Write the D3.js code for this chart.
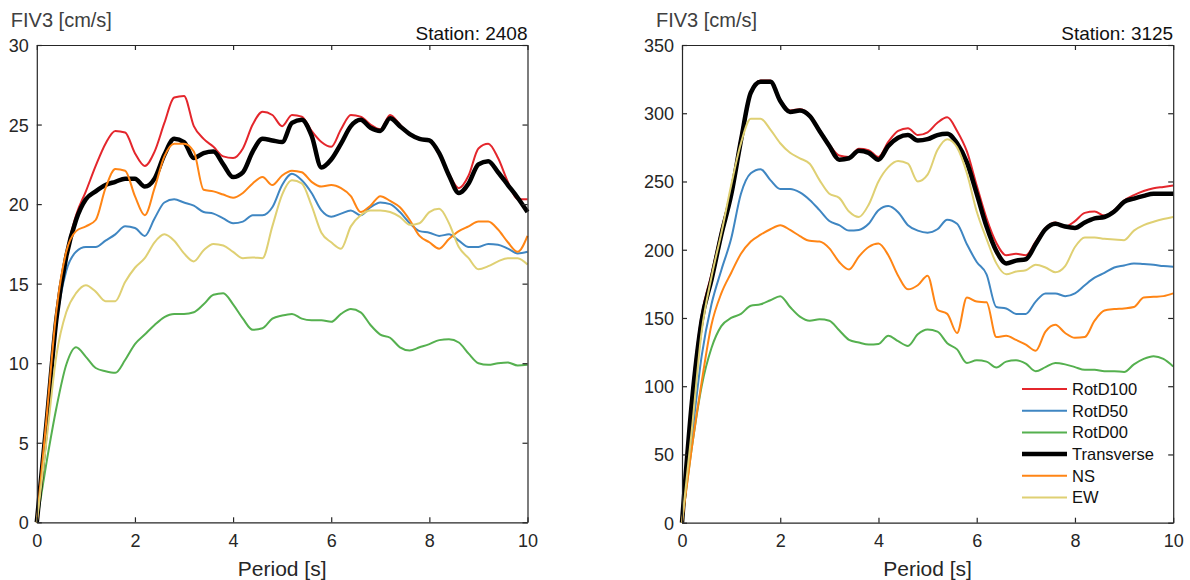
<!DOCTYPE html>
<html>
<head>
<meta charset="utf-8">
<script src="https://cdn.jsdelivr.net/npm/d3@7"></script>
<style>
  body { margin: 0; background: #fff; }
  svg { font-family: "Liberation Sans", Arial, sans-serif; }
</style>
</head>
<body>
<div id="chart"></div>
<script>
// periods (s), shared by all series
const period = d3.range(0, 10.0001, 0.2).map(d => +d.toFixed(1));

const seriesNames = ["RotD100", "RotD50", "RotD00", "Transverse", "NS", "EW"];

// Station 2408
const rotd100_2408 = [0, 6.5, 13.0, 16.8, 19.3, 20.8, 22.4, 23.8, 24.6, 24.5, 23.2, 22.4, 23.3, 25.1, 26.7, 26.8, 24.9, 24.1, 23.6, 23.0, 22.9, 23.5, 25.0, 25.8, 25.6, 24.9, 25.6, 25.5, 24.6, 23.9, 23.6, 24.7, 25.6, 25.5, 25.0, 24.7, 25.6, 25.0, 24.4, 24.1, 24.0, 23.1, 21.9, 21.0, 21.8, 23.5, 23.8, 22.9, 21.4, 20.3, 20.3];
const rotd50_2408 = [0, 6.0, 12.5, 15.8, 17.0, 17.3, 17.3, 17.7, 18.1, 18.6, 18.5, 18.0, 19.1, 20.1, 20.3, 20.1, 19.9, 19.5, 19.4, 19.1, 18.8, 18.9, 19.3, 19.3, 19.8, 21.2, 21.9, 21.5, 20.7, 19.6, 19.2, 19.4, 19.6, 19.3, 19.8, 20.1, 20.0, 19.5, 18.8, 18.3, 18.2, 18.0, 18.1, 17.7, 17.3, 17.3, 17.5, 17.45, 17.2, 16.9, 17.0];
const rotd00_2408 = [0, 3.8, 7.2, 9.9, 11.0, 10.4, 9.7, 9.5, 9.4, 10.2, 11.2, 11.8, 12.4, 12.9, 13.1, 13.1, 13.2, 13.7, 14.3, 14.4, 13.7, 12.8, 12.1, 12.2, 12.8, 13.0, 13.1, 12.8, 12.7, 12.7, 12.6, 13.1, 13.4, 13.2, 12.4, 11.8, 11.6, 11.0, 10.8, 11.0, 11.2, 11.45, 11.5, 11.3, 10.6, 10.0, 9.9, 10.0, 10.05, 9.85, 9.9];
const trans_2408 = [0, 6.3, 12.8, 16.7, 19.0, 20.3, 20.8, 21.2, 21.4, 21.6, 21.6, 21.1, 21.6, 23.1, 24.1, 23.9, 22.9, 23.2, 23.3, 22.5, 21.7, 22.0, 23.3, 24.1, 24.0, 23.9, 25.1, 25.3, 24.3, 22.3, 22.8, 23.8, 24.9, 25.3, 24.8, 24.6, 25.4, 24.9, 24.4, 24.1, 24.0, 23.2, 21.8, 20.7, 21.3, 22.5, 22.7, 22.0, 21.2, 20.4, 19.5];
const ns_2408 = [0, 6.6, 13.3, 17.0, 18.3, 18.6, 19.0, 21.0, 22.2, 22.1, 20.5, 19.3, 21.0, 23.0, 23.8, 23.8, 23.3, 20.9, 20.8, 20.6, 20.4, 20.7, 21.3, 21.7, 21.2, 21.8, 22.1, 22.0, 21.4, 21.1, 21.2, 21.0, 20.5, 19.5, 19.9, 20.5, 20.2, 19.8, 19.0, 18.0, 17.6, 17.2, 17.8, 18.3, 18.6, 18.9, 18.9, 18.4, 17.6, 17.0, 18.0];
const ew_2408 = [0, 5.2, 10.5, 13.2, 14.4, 14.9, 14.5, 13.9, 13.9, 15.1, 16.0, 16.6, 17.6, 18.1, 17.7, 16.9, 16.4, 17.1, 17.5, 17.4, 17.0, 16.6, 16.65, 16.6, 18.6, 20.6, 21.5, 21.3, 19.9, 18.2, 17.6, 17.2, 18.6, 19.3, 19.6, 19.6, 19.5, 19.2, 18.7, 18.8, 19.5, 19.7, 18.8, 17.3, 16.6, 15.9, 16.1, 16.4, 16.6, 16.6, 16.2];

// Station 3125
const rotd100_3125 = [0, 92, 152, 182, 214, 243, 283, 316, 324, 324, 310, 302, 303, 299, 288, 277, 269, 268, 274, 273, 268, 279, 287, 289, 284, 286, 293, 297, 287, 272, 247, 223, 205, 196, 197, 196, 206, 216, 220, 217, 221, 227, 228, 225, 229, 236, 240, 243, 245, 246, 247];
const rotd50_3125 = [0, 62, 122, 160, 185, 208, 241, 256, 259, 251, 244.5, 244.5, 242, 236.5, 229, 221, 218, 214, 214.5, 219, 229, 232, 227.5, 218, 214, 212.5, 215, 222, 219, 204, 191, 182, 158, 157, 153, 153, 162, 168, 168, 166, 168, 174, 179.5, 183, 187, 188.5, 190, 189.5, 189, 188, 187.5];
const rotd00_3125 = [0, 55, 100, 128, 144, 150, 153, 159, 160, 163, 166, 158, 151, 148, 149, 148, 141, 134, 132, 130.5, 131, 137, 133, 129.5, 138, 141.5, 140, 131.5, 127, 117, 119, 118, 113.7, 118, 119, 116.5, 111, 114, 117, 116, 114, 112, 112, 111, 111, 110.5, 116, 120, 122, 120, 114.5];
const trans_3125 = [0, 88, 148, 178, 211, 240, 280, 315, 323, 323, 309, 301, 302, 298, 287, 276, 266, 267, 272.5, 271, 266, 276, 282, 284, 280, 281, 284, 285, 278, 264, 241, 217, 199, 190, 192, 193, 204, 215, 219, 217, 216, 220, 223, 224, 228, 235, 237.5, 239.5, 241, 241, 241];
const ns_3125 = [0, 55, 103, 145, 168, 183, 197, 206, 211, 215, 218, 214.5, 210, 206.5, 206, 201, 191, 185.5, 195, 202, 204.5, 196, 181, 171, 174, 181, 156, 153, 139, 165, 162, 161.5, 136, 137, 134, 130.5, 126, 140, 145, 139, 135.5, 136, 148, 155.5, 156.5, 157, 158, 165, 165.5, 166, 168];
const ew_3125 = [0, 68, 140, 180, 212, 247, 278, 296, 296, 288, 278, 271, 267, 263, 251, 241, 238, 228, 224, 233, 250, 260.5, 265, 263, 250, 255, 273, 281, 275, 256, 228, 208, 190, 182, 184, 185, 189, 187, 183.5, 188, 202, 209, 209, 208, 207.5, 207, 214, 218, 220.5, 222.5, 224];

const xTicks = [0, 2, 4, 6, 8, 10];
const yTicks2408 = [0, 5, 10, 15, 20, 25, 30];
const yTicks3125 = [0, 50, 100, 150, 200, 250, 300, 350];

const colors = {
    RotD100: "#e4262c",
    RotD50: "#3f86c2",
    RotD00: "#55b04f",
    Transverse: "#000000",
    NS: "#ff8515",
    EW: "#dfd073"
};
const widths = { RotD100: 2, RotD50: 2, RotD00: 2, Transverse: 4.5, NS: 2, EW: 2 };

const panels = [
    { station: "2408", yMax: 30, yTicks: yTicks2408, left: 36.8, width: 490.7, height: 477.3,
      series: [rotd100_2408, rotd50_2408, rotd00_2408, trans_2408, ns_2408, ew_2408], legend: false },
    { station: "3125", yMax: 350, yTicks: yTicks3125, left: 682, width: 491.2, height: 477.7,
      series: [rotd100_3125, rotd50_3125, rotd00_3125, trans_3125, ns_3125, ew_3125], legend: true }
];

const svg = d3.select("#chart")
    .append("svg")
    .attr("width", 1190)
    .attr("height", 580);

const axisColor = "#262626";

panels.forEach(p => {
    const top = 45;
    const g = svg.append("g").attr("transform", `translate(${p.left},${top})`);

    const xScale = d3.scaleLinear().domain([0, 10]).range([0, p.width]);
    const yScale = d3.scaleLinear().domain([0, p.yMax]).range([p.height, 0]);

    // lines
    const line = d3.line()
        .x((d, i) => xScale(period[i]))
        .y(d => yScale(d))
        .curve(d3.curveMonotoneX);

    seriesNames.forEach((name, k) => {
        g.append("path")
            .datum(p.series[k])
            .attr("fill", "none")
            .attr("stroke", colors[name])
            .attr("stroke-width", widths[name])
            .attr("stroke-linejoin", "round")
            .attr("d", line);
    });

    // axes (box with inward ticks on all sides)
    const bottom = g.append("g")
        .attr("transform", `translate(0,${p.height})`)
        .call(d3.axisBottom(xScale).tickValues(xTicks).tickSizeInner(-5).tickSizeOuter(0).tickPadding(12));
    const topAx = g.append("g")
        .call(d3.axisTop(xScale).tickValues(xTicks).tickSizeInner(-5).tickSizeOuter(0).tickFormat(""));
    const leftAx = g.append("g")
        .call(d3.axisLeft(yScale).tickValues(p.yTicks).tickSizeInner(-5).tickSizeOuter(0).tickPadding(8));
    const rightAx = g.append("g")
        .attr("transform", `translate(${p.width},0)`)
        .call(d3.axisRight(yScale).tickValues(p.yTicks).tickSizeInner(-5).tickSizeOuter(0).tickFormat(""));

    [bottom, topAx, leftAx, rightAx].forEach(a => {
        a.select(".domain").attr("stroke", axisColor).attr("stroke-width", 1.2);
        a.selectAll(".tick line").attr("stroke", axisColor).attr("stroke-width", 1.2);
        a.selectAll(".tick text")
            .attr("fill", axisColor)
            .style("font-size", "18px");
    });
    leftAx.selectAll(".tick text").attr("dy", "0.36em");

    // axis labels
    g.append("text")
        .attr("x", p.width / 2)
        .attr("y", 576 - top)
        .attr("text-anchor", "middle")
        .attr("fill", axisColor)
        .style("font-size", "21px")
        .text("Period [s]");

    svg.append("text")
        .attr("x", p.left - 26)
        .attr("y", 27)
        .attr("fill", "#404040")
        .style("font-size", "20px")
        .text("FIV3 [cm/s]");

    g.append("text")
        .attr("x", p.width)
        .attr("y", 40 - top)
        .attr("text-anchor", "end")
        .attr("fill", "#111")
        .style("font-size", "19px")
        .text("Station: " + p.station);

    // legend
    if (p.legend) {
        const lg = svg.append("g").attr("transform", "translate(1022,389)");
        seriesNames.forEach((name, k) => {
            const row = lg.append("g").attr("transform", `translate(0,${k * 21.7})`);
            row.append("line")
                .attr("x1", 0).attr("x2", 45)
                .attr("stroke", colors[name])
                .attr("stroke-width", widths[name]);
            row.append("text")
                .attr("x", 50)
                .attr("dy", "0.36em")
                .attr("fill", "#111")
                .style("font-size", "16.5px")
                .text(name);
        });
    }
});
</script>
</body>
</html>
